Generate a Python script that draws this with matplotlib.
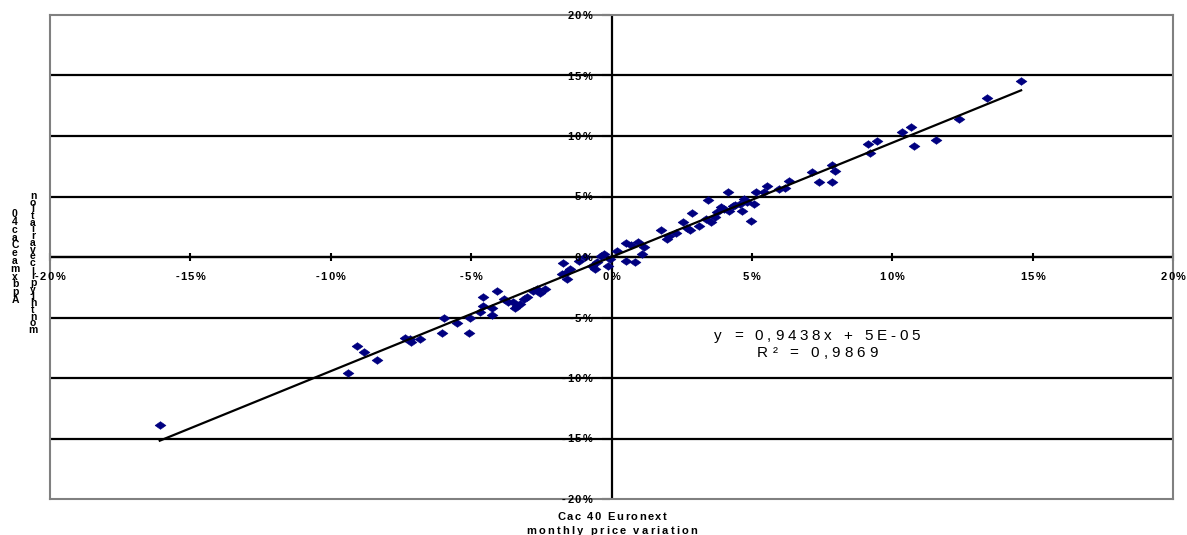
import matplotlib
matplotlib.use("Agg")
import matplotlib.pyplot as plt
import numpy as np
from matplotlib.font_manager import FontProperties, findfont
from matplotlib.ft2font import FT2Font
from matplotlib.transforms import offset_copy

try:
    from matplotlib.ft2font import LoadFlags
    NO_HINT = LoadFlags.NO_HINTING
except ImportError:
    NO_HINT = 2

# Monthly price variations (%)
cac40_var = [
    -16.09, -9.40, -9.07, -8.83, -8.36, -7.37, -7.19, -7.15, -6.83, -6.05,
    -5.98, -5.52, -5.09, -5.05, -4.70, -4.59, -4.56, -4.27, -4.27, -4.09,
    -3.84, -3.70, -3.52, -3.38, -3.45, -3.27, -3.10, -3.02, -2.81, -2.67,
    -2.38, -2.53, -1.78, -1.74, -1.60, -1.57, -1.49, -1.14, -0.96, -0.71,
    -0.60, -0.50, -0.36, -0.25, -0.14, -0.07, 0.21, 0.53, 0.82, 0.53,
    0.71, 0.93, 1.17, 1.10, 1.78, 1.99, 2.06, 2.28, 2.53, 2.70,
    2.78, 2.85, 3.13, 3.38, 3.56, 3.45, 3.67, 3.77, 3.91, 4.02,
    4.16, 4.31, 4.41, 4.20, 4.56, 4.66, 4.73, 4.84, 4.98, 5.09,
    5.16, 5.44, 5.55, 5.98, 6.19, 6.33, 7.15, 7.40, 7.86, 7.97,
    7.86, 9.15, 9.22, 9.47, 10.36, 10.68, 10.78, 11.57, 12.38, 13.38,
    14.59,
]
tracker_var = [
    -13.91, -9.55, -7.33, -7.82, -8.48, -6.67, -6.75, -7.00, -6.75, -6.26,
    -5.02, -5.43, -6.26, -5.02, -4.53, -4.03, -3.29, -4.20, -4.77, -2.80,
    -3.46, -3.70, -3.70, -4.03, -4.20, -3.87, -3.46, -3.29, -2.80, -2.63,
    -2.63, -2.96, -1.40, -0.49, -1.23, -1.81, -0.99, -0.33, 0.00, -0.74,
    -0.99, -0.41, 0.08, 0.25, -0.74, -0.16, 0.49, -0.33, -0.41, 1.15,
    0.99, 1.23, 0.82, 0.25, 2.22, 1.48, 1.73, 1.98, 2.88, 2.39,
    2.22, 3.62, 2.55, 3.13, 2.88, 4.69, 3.29, 3.70, 4.12, 3.95,
    5.35, 4.20, 4.28, 3.79, 4.36, 3.79, 4.77, 4.53, 2.96, 4.36,
    5.35, 5.35, 5.84, 5.60, 5.68, 6.26, 7.00, 6.17, 7.57, 7.08,
    6.17, 9.30, 8.56, 9.55, 10.37, 10.78, 9.14, 9.63, 11.44, 13.17,
    14.57,
]

# Linear trend as reported by the regression
slope = 0.9438
intercept = 5e-05
r_squared = 0.9869

tick_values = [-20, -15, -10, -5, 0, 5, 10, 15, 20]
x_title = ["Cac 40 Euronext", "monthly price variation"]
y_title = ["Apbx mae Cac 40", "monthly price variation"]

FONT = "Liberation Sans"
DPI = 100

fig = plt.figure(figsize=(11.87, 5.35), dpi=DPI)
ax = fig.add_axes([50 / 1187, 36 / 535, 1123 / 1187, 484 / 535])
ax.set_xlim(-20, 20)
ax.set_ylim(-20, 20)
ax.set_xticks([])
ax.set_yticks([])
for s in ax.spines.values():
    s.set_color("#808080")
    s.set_linewidth(1.5)


def spaced_text(x, y, s, transform, size, weight="normal", track=2.0,
                ha="center", dx=0.0, dy=0.0, zorder=3):
    """Draw a string with extra letter spacing (track, in pixels).
    dy places the vertical middle of capitals, in pixels."""
    prop = FontProperties(family=FONT, weight=weight, size=size)
    font = FT2Font(findfont(prop))
    font.set_size(size, DPI)
    advances = []
    for c in s:
        g = font.load_char(ord(c), flags=NO_HINT)
        advances.append(g.linearHoriAdvance / 65536)
    total = sum(advances) + track * (len(s) - 1)
    if ha == "center":
        start = dx - total / 2
    elif ha == "right":
        start = dx - total
    else:
        start = dx
    base = dy - 0.36 * size * DPI / 72
    pos = start
    for c, a in zip(s, advances):
        if c != " ":
            tr = offset_copy(transform, fig=fig, x=pos, y=base, units="dots")
            fig.text(x, y, c, transform=tr, ha="left", va="baseline",
                     fontproperties=prop, zorder=zorder)
        pos += a + track


# Horizontal gridlines
for v in tick_values[1:-1]:
    ax.axhline(v, color="black", lw=1.6, zorder=1)
# Axes crossing at the origin
ax.axhline(0, color="black", lw=1.6, zorder=1)
ax.axvline(0, color="black", lw=1.6, zorder=1)

# Tick marks on the crossing axes
ax.plot(tick_values, [0] * len(tick_values), ls="none", marker="|",
        ms=6, mew=1.5, color="black", zorder=2, clip_on=False)
ax.plot([-0.18] * len(tick_values), tick_values, ls="none", marker="_",
        ms=6, mew=1.5, color="black", zorder=2, clip_on=False)

# Tick labels
for v in tick_values:
    spaced_text(v, 0, f"{v}%", ax.transData, 8, "bold", track=1.5,
                ha="center", dy=-19)
    spaced_text(0, v, f"{v}%", ax.transData, 8, "bold", track=1.5,
                ha="right", dx=-19)

# Scatter with flattened diamonds
diamond = [(-1, 0), (0, 0.7), (1, 0), (0, -0.7), (-1, 0)]
x = np.array(cac40_var)
y = np.array(tracker_var)
ax.scatter(x, y, marker=diamond, s=62, color="#000080", edgecolors="#000080",
           linewidths=0.4, zorder=4)

# Trend line over the data range
xs = np.array([x.min(), x.max()])
ax.plot(xs, slope * xs + intercept * 100, color="black", lw=1.6, zorder=5)

eq = f"y = {slope:.4f}x + 5E-05".replace(".", ",")
r2 = f"R\u00b2 = {r_squared:.4f}".replace(".", ",")
spaced_text(7.33, -6.42, eq, ax.transData, 11, track=3.8)
spaced_text(7.33, -7.82, r2, ax.transData, 11, track=4.0)

# Axis titles
spaced_text(612 / 1187, 1 - 516 / 535, x_title[0], fig.transFigure, 8,
            "bold", track=1.6)
spaced_text(612 / 1187, 1 - 530 / 535, x_title[1], fig.transFigure, 8,
            "bold", track=2.2)


# Vertical title drawn as stacked upright characters, read bottom to top
def stacked(text, xc, y_bottom, step):
    chars = [c for c in text if c != " "]
    for i, c in enumerate(chars):
        fig.text(xc / 1187, 1 - (y_bottom - i * step) / 535, c, ha="center",
                 va="center", fontsize=7.5, fontweight="bold", family=FONT)


stacked(y_title[0], 15, 300, 7.8)
stacked(y_title[1], 33, 330, 6.7)

fig.savefig("out.png", dpi=DPI, facecolor="white")
